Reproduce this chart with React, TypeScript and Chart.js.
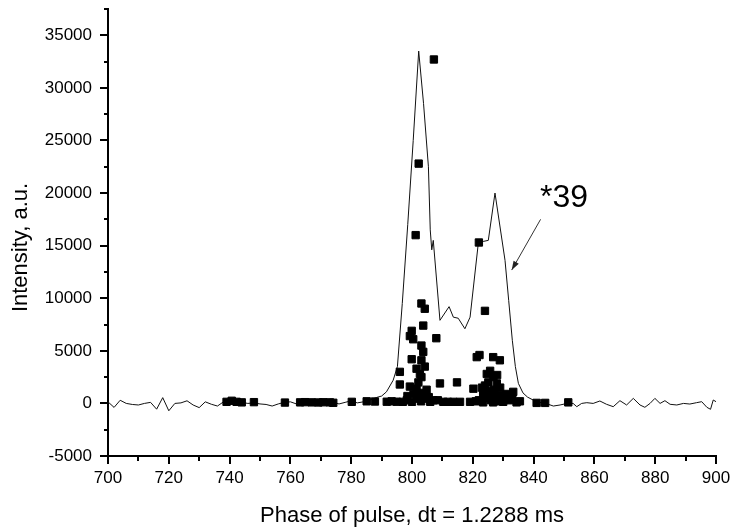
import React, { useEffect, useRef } from 'react';
import { Chart, registerables } from 'chart.js';

Chart.register(...registerables);

const FONT = '"Liberation Sans", Arial, sans-serif';

// Continuous trace (Phase, Intensity)
const lineX = [
  700, 702, 704, 706, 708, 710, 712, 714, 716, 718, 720, 722, 724, 726, 728, 730, 732, 734, 736, 738,
  740, 742, 744, 746, 748, 750, 752, 754, 756, 758, 760, 762, 764, 766, 768, 770, 772, 774, 776, 778,
  780, 782, 784, 786, 788.4, 790, 791.6, 793.8, 795.2, 796.8, 798.6, 800.4, 802.2, 803.8, 805.4, 806,
  806.5, 807, 809.2, 812.2, 813.6, 815.2, 817.4, 819.1, 821.8, 823.4, 825.1, 827.3, 830.6, 831.8, 833,
  834, 835, 836.5, 838, 840, 842, 844, 846.5, 848.7, 851, 853, 854.2, 855.8, 857.5, 859.6, 861.8, 864,
  866.2, 868.4, 870.6, 872.8, 875, 876.6, 878.3, 879.9, 881.6, 883.2, 884.9, 887.1, 889.3, 891.4, 893.6,
  895.3, 897, 898.2, 899.1, 900,
];
const lineY = [
  150, -380, 300, 0, -100, -150, 0, 100, -550, 550, -700, 0, 50, 250, -150, -400, 150, -80, -250, 150,
  50, -50, 100, 0, 50, -50, -100, -250, -50, 100, 150, -50, 50, 100, 0, 50, -50, 100, -50, 100,
  250, 50, 150, 300, 570, 700, 1100, 2200, 3500, 9500, 17000, 25000, 33500, 28500, 22500, 16500,
  14600, 15500, 7900, 9200, 8200, 8100, 7100, 8200, 15200, 15400, 15500, 20000, 13600, 9800, 6000,
  3500, 1900, 1000, 600, 300, 100, 0, -250, -150, 0, 0, -310, 0, 70, 0, 230, -85,
  -310, 260, -150, 480, -150, -370, 0, 480, 0, 260, -85, -150, 0, -60, 70,
  165, -370, -560, 325, 165,
];

// Individual measurements (squares)
const dotX = [
  739, 740.7, 742.3, 744, 748, 758.2, 763.2, 764.8, 767, 769.2, 770.8, 773, 774.1, 780.2, 785.1, 787.8, 791.7, 795,
  807.2, 802.2, 801.2, 803.1, 804.2, 803.7, 799.9, 799.3, 800.4, 808, 803.1, 803.7, 799.9, 803.1, 804.2, 801.5,
  796, 802.6, 803.1, 802.1, 796, 809.2, 814.8, 799.3, 801.5, 804.8, 800.5, 802.5, 803.5, 805.5, 798.5, 798.3,
  801.5, 804.8, 807, 810.3, 813.6, 815.8, 819.1, 793.3, 797, 800, 803, 806, 808.5, 811.8,
  822, 824, 821.3, 822.2, 826.7, 828.9, 825.7, 824.6, 826.8, 825.1, 827.9, 820.2, 833.3, 823.4, 825.7, 827.5,
  829, 824.2, 830, 822, 832, 823.4, 826.7, 830, 834.4, 841, 843.8, 851.4,
  821, 823, 825, 827, 829, 831, 833, 835.5, 828, 826, 824, 828,
];
const dotY = [
  150, 250, 150, 100, 120, 80, 100, 120, 100, 90, 110, 100, 60, 150, 200, 180, 160, 160,
  32700, 22800, 16000, 9500, 9000, 7400, 6900, 6400, 6100, 6200, 5500, 4900, 4200, 4100, 3500, 3300,
  3000, 2800, 2500, 2000, 1800, 1900, 2000, 1600, 1400, 1300, 900, 700, 1000, 600, 700, 300,
  450, 450, 300, 150, 150, 150, 150, 200, 150, 150, 200, 150, 300, 150,
  15300, 8800, 4400, 4600, 4400, 4100, 3100, 2800, 2500, 2000, 1900, 1400, 1100, 900, 800, 600,
  800, 500, 400, 300, 300, 100, 100, 150, 100, 50, 50, 100,
  200, 1500, 1200, 1300, 1500, 900, 500, 200, 200, 300, 1700, 2700,
];

const xMin = 700;
const xMax = 900;
const xStep = 10;
const xLabelStep = 20;
const yMin = -5000;
const yMax = 37500;
const yStep = 2500;
const yLabelStep = 5000;

const xTitle = 'Phase of pulse, dt = 1.2288 ms';
const yTitle = 'Intensity, a.u.';
const noteText = '*39';
const noteAnchor = { x: 842.1, y: 18700 };
const arrowFrom = { x: 842.3, y: 17500 };
const arrowTo = { x: 832.8, y: 12680 };

const decoPlugin = {
  id: 'deco',
  afterDraw(chart: any) {
    const { ctx, chartArea, scales } = chart;
    const x = scales.x;
    const y = scales.y;
    ctx.save();
    ctx.strokeStyle = '#000';
    ctx.lineWidth = 2;
    for (const t of y.ticks) {
      const py = Math.round(y.getPixelForValue(t.value));
      const len = t.value % yLabelStep === 0 ? 8 : 4;
      ctx.beginPath();
      ctx.moveTo(chartArea.left - len, py);
      ctx.lineTo(chartArea.left, py);
      ctx.stroke();
    }
    for (const t of x.ticks) {
      const px = Math.round(x.getPixelForValue(t.value));
      const len = t.value % xLabelStep === 0 ? 8 : 5;
      ctx.beginPath();
      ctx.moveTo(px, chartArea.bottom);
      ctx.lineTo(px, chartArea.bottom + len);
      ctx.stroke();
    }
    ctx.save();
    ctx.translate(21, (chartArea.top + chartArea.bottom) / 2 + 15);
    ctx.rotate(-Math.PI / 2);
    ctx.font = `22px ${FONT}`;
    ctx.fillStyle = '#000';
    ctx.textAlign = 'center';
    ctx.textBaseline = 'middle';
    ctx.fillText(yTitle, 0, 0);
    ctx.restore();

    ctx.font = `32px ${FONT}`;
    ctx.fillStyle = '#000';
    ctx.textAlign = 'left';
    ctx.textBaseline = 'alphabetic';
    ctx.fillText(noteText, x.getPixelForValue(noteAnchor.x), y.getPixelForValue(noteAnchor.y));

    const x1 = x.getPixelForValue(arrowFrom.x);
    const y1 = y.getPixelForValue(arrowFrom.y);
    const x2 = x.getPixelForValue(arrowTo.x);
    const y2 = y.getPixelForValue(arrowTo.y);
    ctx.strokeStyle = '#333';
    ctx.lineWidth = 1;
    ctx.beginPath();
    ctx.moveTo(x1, y1);
    ctx.lineTo(x2, y2);
    ctx.stroke();
    const ang = Math.atan2(y2 - y1, x2 - x1);
    const hl = 9;
    const hw = 3;
    ctx.fillStyle = '#222';
    ctx.beginPath();
    ctx.moveTo(x2, y2);
    ctx.lineTo(x2 - hl * Math.cos(ang) + hw * Math.sin(ang), y2 - hl * Math.sin(ang) - hw * Math.cos(ang));
    ctx.lineTo(x2 - hl * Math.cos(ang) - hw * Math.sin(ang), y2 - hl * Math.sin(ang) + hw * Math.cos(ang));
    ctx.closePath();
    ctx.fill();
    ctx.restore();
  },
};

export default function App() {
  const ref = useRef<HTMLCanvasElement>(null);
  useEffect(() => {
    if (!ref.current) return;
    const chart = new Chart(ref.current, {
      type: 'scatter',
      data: {
        datasets: [
          {
            data: lineX.map((v, i) => ({ x: v, y: lineY[i] })),
            showLine: true,
            borderColor: '#111',
            borderWidth: 1,
            pointRadius: 0,
            tension: 0,
            fill: false,
            order: 2,
          },
          {
            data: dotX.map((v, i) => ({ x: v, y: dotY[i] })),
            showLine: false,
            pointStyle: 'rect',
            pointRadius: 5.2,
            borderWidth: 1,
            borderColor: '#000',
            backgroundColor: '#000',
            order: 1,
          },
        ],
      },
      options: {
        responsive: false,
        animation: false,
        layout: { padding: { left: 0, top: 9, right: 17, bottom: 0 } },
        plugins: { legend: { display: false }, tooltip: { enabled: false } },
        scales: {
          x: {
            type: 'linear',
            min: xMin,
            max: xMax,
            grid: { display: false, drawTicks: false },
            border: { display: true, color: '#000', width: 2 },
            ticks: {
              stepSize: xStep,
              autoSkip: false,
              maxRotation: 0,
              padding: 12,
              color: '#000',
              font: { family: FONT, size: 17 },
              callback: (v: any) => (Number(v) % xLabelStep === 0 ? String(v) : ''),
            },
            title: {
              display: true,
              text: xTitle,
              color: '#000',
              font: { family: FONT, size: 22 },
              padding: { top: 0, bottom: 2 },
            },
            afterFit: (s: any) => {
              s.height = 75;
              s.paddingLeft = 0;
              s.paddingRight = 0;
            },
          },
          y: {
            type: 'linear',
            min: yMin,
            max: yMax,
            grid: { display: false, drawTicks: false },
            border: { display: true, color: '#000', width: 2 },
            ticks: {
              stepSize: yStep,
              autoSkip: false,
              padding: 16,
              color: '#000',
              font: { family: FONT, size: 17 },
              callback: (v: any) => (Number(v) % yLabelStep === 0 ? String(v) : ''),
            },
            afterFit: (s: any) => {
              s.width = 108;
              s.paddingTop = 0;
              s.paddingBottom = 0;
            },
          },
        },
      },
      plugins: [decoPlugin],
    });
    return () => chart.destroy();
  }, []);
  return (
    <div style={{ position: 'absolute', left: 0, top: 0, width: 733, height: 531, background: '#fff' }}>
      <canvas ref={ref} width={733} height={531} style={{ display: 'block' }} />
    </div>
  );
}
